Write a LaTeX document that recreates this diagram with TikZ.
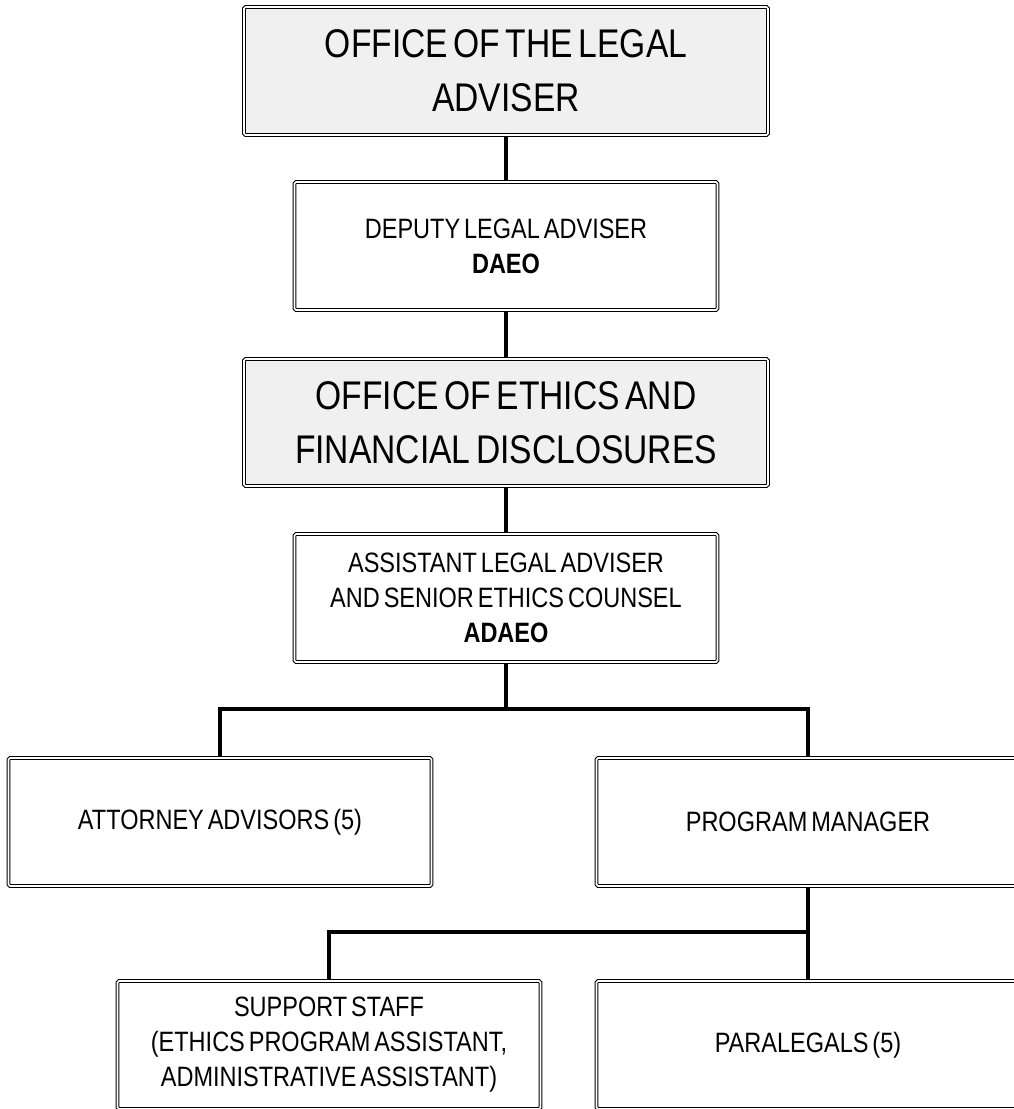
\documentclass[tikz,border=0pt]{standalone}
\usepackage{fontspec}
\setmainfont{Liberation Sans}[FakeStretch=0.84, WordSpace=0.6]
\usepackage{xcolor}
\definecolor{boxgray}{HTML}{F0F0F0}
\tikzset{
    orgbox/.style = {draw, double, line width=1.1pt, double distance=1.6pt, rounded corners=1.5pt,
        minimum height=128pt, align=center, inner sep=0pt},
    widebox/.style = {orgbox, fill=boxgray, minimum width=524pt, font=\fontsize{40}{54}\selectfont},
    narrowbox/.style = {orgbox, fill=white, minimum width=423pt, font=\fontsize{28}{35}\selectfont},
    link/.style = {draw, line width=3.5pt}
}

\begin{document}
\begin{tikzpicture}[x=1pt, y=-1pt]
    \useasboundingbox (0,0) rectangle (1014,1109);
    \clip (0,0) rectangle (1014,1109);
    \node[widebox] (legal) at (506,71) {OFFICE OF THE LEGAL\\ADVISER};
    \node[narrowbox] (deputy) at (506,246) {DEPUTY LEGAL ADVISER\\\textbf{DAEO}};
    \node[widebox, minimum height=127pt] (ethics) at (506,422.5) {OFFICE OF ETHICS AND\\FINANCIAL DISCLOSURES};
    \node[narrowbox] (assistant) at (506,598) {ASSISTANT LEGAL ADVISER\\AND SENIOR ETHICS COUNSEL\\\textbf{ADAEO}};
    \node[narrowbox] (attorneys) at (220,822) {ATTORNEY ADVISORS (5)};
    \node[narrowbox] (manager) at (808,822) {PROGRAM MANAGER};
    \node[narrowbox] (support) at (329,1045) {SUPPORT STAFF\\(ETHICS PROGRAM ASSISTANT,\\ADMINISTRATIVE ASSISTANT)};
    \node[narrowbox] (paralegals) at (808,1045) {PARALEGALS (5)};

    \coordinate (fork1) at (506,709);
    \coordinate (fork2) at (808,932);

    \draw[link] (legal) -- (deputy);
    \draw[link] (deputy) -- (ethics);
    \draw[link] (ethics) -- (assistant);
    \draw[link] (assistant) -- (fork1);
    \draw[link] (attorneys.north) |- (fork1) -| (manager.north);
    \draw[link] (manager) -- (paralegals);
    \draw[link] (support.north) |- (fork2);
\end{tikzpicture}
\end{document}
